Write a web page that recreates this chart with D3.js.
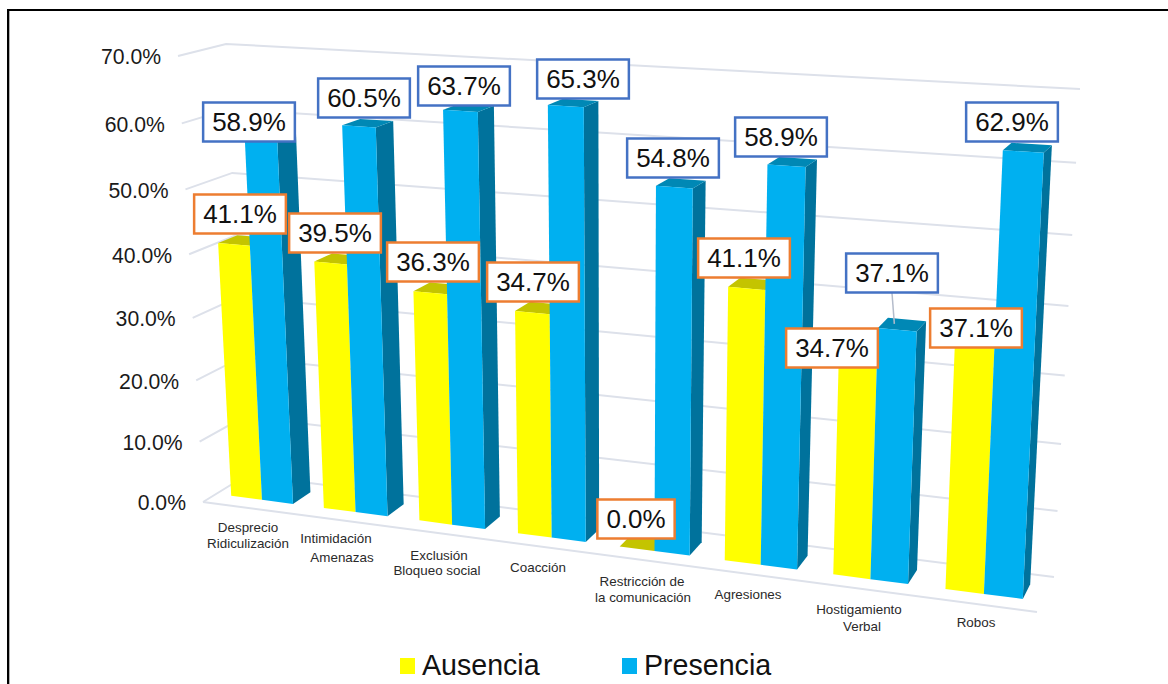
<!DOCTYPE html>
<html><head><meta charset="utf-8">
<script src="https://cdn.jsdelivr.net/npm/d3@7/dist/d3.min.js"></script>
<style>html,body{margin:0;padding:0;background:#fff}svg{display:block}text{font-family:"Liberation Sans",Arial,sans-serif}</style>
</head><body><svg id="c" width="1168" height="684"></svg>
<script>
const categories=[["Desprecio","Ridiculización"],["Intimidación","Amenazas"],["Exclusión","Bloqueo social"],["Coacción"],["Restricción de","la comunicación"],["Agresiones"],["Hostigamiento","Verbal"],["Robos"]];
const ausencia=[41.1,39.5,36.3,34.7,0.0,41.1,34.7,37.1];
const presencia=[58.9,60.5,63.7,65.3,54.8,58.9,37.1,62.9];
const tickValues=[0,10,20,30,40,50,60,70];
const seriesNames=["Ausencia","Presencia"];
// layout only: label box centres, category label centres
const ausenciaBox=[[240,214],[335,233],[433,262],[533,282],[636,519],[744,258],[832,348],[976,328]];
const presenciaBox=[[249,122],[364,98],[464,86],[583,79],[673,158],[781,137],[892,273],[1012,122]];
const catLabelPos=[[[248,527],[248,543]],[[336,538],[342,557]],[[439,555],[437,570]],[[538,567]],[[642,581],[643,597]],[[748,594]],[[859,609],[862,626]],[[976,622]]];

const svg=d3.select("#c");
// frame: top and left rules only
svg.append("path").attr("d","M9.5,690V11").attr("fill","none").attr("stroke","#b0b0b0").attr("stroke-width",1);
svg.append("path").attr("d","M8,690V10H1170").attr("fill","none").attr("stroke","#000").attr("stroke-width",2);

// projection of the chart's 3D box: corners (u:left/right, v:bottom/top, w:front/back)
const corners={
 lbf:[203,502],ltf:[178,56],lbb:[247,475],ltb:[226,44],
 rbf:[1037,612],rtf:[1061,105],rbb:[1054,577],rtb:[1080,89]};
const warpU=t=>t/(1+0.137*(1-t)), warpV=t=>t/(1+0.067*(1-t));
const uScale=d3.scaleLinear().domain([0,categories.length]).range([0,1]);
const vScale=d3.scaleLinear().domain([0,70]).range([0,1]);
const mix=(a,b,t)=>[a[0]+(b[0]-a[0])*t,a[1]+(b[1]-a[1])*t];
function P(u,v,w){
  const U=warpU(uScale(u)),V=warpV(vScale(v));
  const c=corners;
  const l=mix(mix(c.lbf,c.ltf,V),mix(c.lbb,c.ltb,V),w);
  const r=mix(mix(c.rbf,c.rtf,V),mix(c.rbb,c.rtb,V),w);
  return mix(l,r,U);
}
const poly=pts=>"M"+pts.map(p=>p.join(",")).join("L")+"Z";
const line=pts=>"M"+pts.map(p=>p.join(",")).join("L");

// gridlines
const nCat=categories.length;
const grid=svg.append("g").attr("fill","none").attr("stroke","#dde1ea").attr("stroke-width",2);
tickValues.forEach(v=>{
  grid.append("path").attr("d",line([P(0,v,0),P(0,v,1),P(nCat,v,1)]));
});
grid.append("path").attr("d",line([P(0,0,0),P(nCat,0,0)]));

// y axis: each tick sits 17px left of the wall's front edge
const yTick=d3.scaleLinear().domain(tickValues).range(tickValues.map(v=>P(0,v,0)[1]+1.5));
const ax=svg.append("g").call(d3.axisLeft(yTick).tickValues(tickValues).tickSize(0).tickPadding(0).tickFormat(d=>d3.format(".1f")(d)+"%"));
ax.select(".domain").remove();
ax.selectAll(".tick").attr("transform",d=>`translate(${P(0,d,0)[0]-17},${yTick(d)})`);
ax.selectAll("text").attr("font-size",21.2).attr("fill","#1a1a1a").style("font-family",'"Liberation Sans",Arial,sans-serif');

// bars
const W0=0.3,W1=0.72,HALF=0.335;
const colors=[{front:"#ffff00",top:"#c4c400",side:"#a8a800"},{front:"#00b0f0",top:"#0088b5",side:"#00729c"}];
const bars=svg.append("g");
function bar(u0,u1,v,col,withSide){
  if(withSide) bars.append("path").attr("d",poly([P(u1,0,W0),P(u1,0,W1),P(u1,v,W1),P(u1,v,W0)])).attr("fill",col.side);
  bars.append("path").attr("d",poly([P(u0,v,W0),P(u1,v,W0),P(u1,v,W1),P(u0,v,W1)])).attr("fill",col.top);
  bars.append("path").attr("d",poly([P(u0,0,W0),P(u1,0,W0),P(u1,v,W0),P(u0,v,W0)])).attr("fill",col.front);
}
categories.forEach((c,i)=>{
  const a=i+0.5-HALF,m=i+0.5,b=i+0.5+HALF;
  bar(a,m,ausencia[i],colors[0],false);
  bar(m,b,presencia[i],colors[1],true);
});

// category labels
categories.forEach((c,i)=>c.forEach((t,j)=>{
  svg.append("text").attr("x",catLabelPos[i][j][0]).attr("y",catLabelPos[i][j][1]).attr("dy","0.35em")
    .attr("text-anchor","middle").attr("font-size",13.4).attr("fill","#2a2a2a").text(t);
}));

// leader line for one label
const lt=P(6.5+0.1,presencia[6],(W0+W1)/2);
svg.append("line").attr("x1",presenciaBox[6][0]).attr("y1",presenciaBox[6][1]+20).attr("x2",lt[0]).attr("y2",lt[1]).attr("stroke","#b4bccb").attr("stroke-width",1.5);

// data labels
function labels(vals,pos,stroke){
  vals.forEach((v,i)=>{
    const g=svg.append("g").attr("transform",`translate(${pos[i][0]},${pos[i][1]})`);
    const s=d3.format(".1f")(v)+"%";
    const t=g.append("text").attr("text-anchor","middle").attr("dy","0.35em").attr("font-size",26).attr("fill","#111").text(s);
    const w=t.node().getComputedTextLength()+18;
    g.insert("rect","text").attr("x",-w/2).attr("y",-19.5).attr("width",w).attr("height",39).attr("fill","#fff").attr("stroke",stroke).attr("stroke-width",2.5);
  });
}
labels(ausencia,ausenciaBox,"#ed7d31");
labels(presencia,presenciaBox,"#4472c4");

// legend
const legend=svg.append("g");
[[400,422],[622,644]].forEach((p,i)=>{
  legend.append("rect").attr("x",p[0]).attr("y",658).attr("width",15).attr("height",16).attr("fill",colors[i].front);
  legend.append("text").attr("x",p[1]).attr("y",675).attr("font-size",28.6).attr("fill","#111").text(seriesNames[i]);
});
</script></body></html>
